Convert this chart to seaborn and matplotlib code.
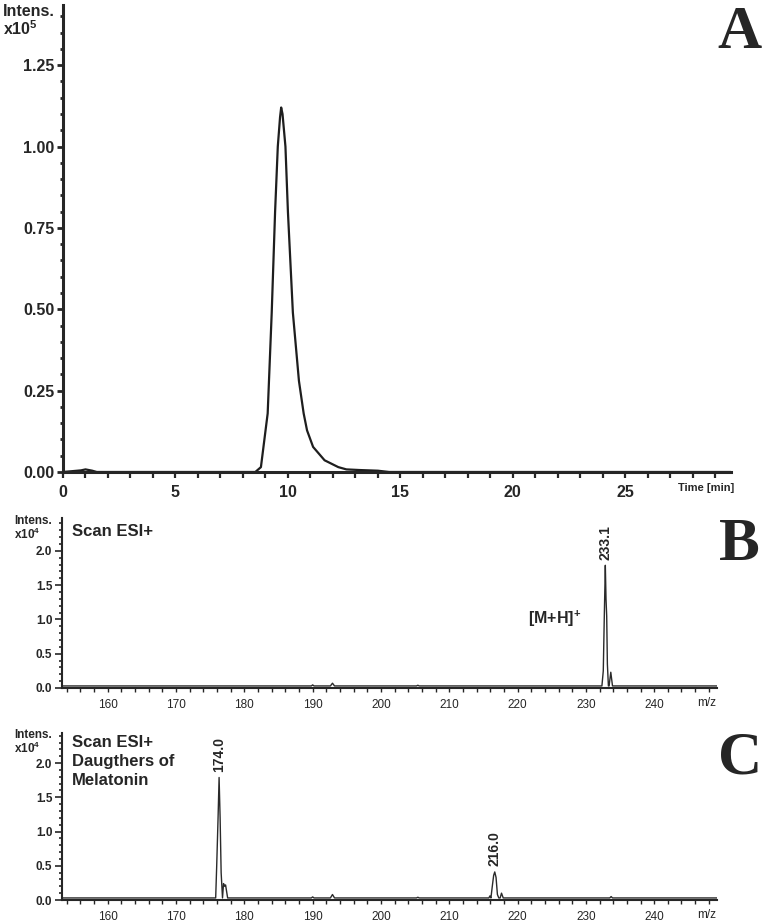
import matplotlib
matplotlib.use('Agg')
import matplotlib.pyplot as plt
import seaborn as sns
from matplotlib.ticker import MultipleLocator

# Chromatogram (panel A), intensity in x10^5
chrom_time = [0.0, 0.8, 1.0, 1.3, 1.5, 8.55, 8.8, 9.1, 9.28, 9.43, 9.55, 9.65, 9.70,
              9.76, 9.89, 10.0, 10.22, 10.49, 10.70, 10.85, 11.12, 11.63, 12.24,
              12.6, 13.2, 14.0, 14.5, 29.7]
chrom_int = [0.0, 0.005, 0.008, 0.004, 0.0, 0.0, 0.015, 0.18, 0.49, 0.80, 1.0, 1.09, 1.12,
             1.10, 1.0, 0.80, 0.49, 0.28, 0.18, 0.128, 0.077, 0.036, 0.015,
             0.008, 0.006, 0.004, 0.0, 0.0]

# Full scan spectrum (panel B), intensity in x10^4
mz_b = [153.3, 189.8, 190.0, 190.2, 192.6, 192.9, 193.2, 205.2, 205.4, 205.6,
        232.35, 232.55, 232.7, 232.85, 232.95, 233.05, 233.15, 233.3,
        233.4, 233.65, 233.9, 249.2]
int_b = [0.03, 0.03, 0.045, 0.03, 0.03, 0.07, 0.03, 0.03, 0.04, 0.03,
         0.03, 0.25, 1.05, 1.79, 1.3, 1.05, 0.35, 0.03,
         0.03, 0.23, 0.03, 0.03]

# Daughter ion spectrum (panel C), intensity in x10^4
mz_c = [153.3, 175.8, 175.95, 176.15, 176.3, 176.45, 176.6, 176.8, 176.95, 177.1,
        177.25, 177.55, 189.8, 190.0, 190.2, 192.6, 192.9, 193.2, 205.2, 205.4, 205.6,
        215.8, 215.95, 216.1, 216.3, 216.5, 216.66, 216.85, 217.05, 217.25, 217.45,
        217.65, 217.9, 233.5, 233.7, 233.9, 249.2]
int_c = [0.03, 0.03, 0.5, 1.2, 1.79, 1.2, 0.4, 0.03, 0.24, 0.2,
         0.22, 0.03, 0.03, 0.045, 0.03, 0.03, 0.08, 0.03, 0.03, 0.04, 0.03,
         0.03, 0.06, 0.03, 0.2, 0.36, 0.41, 0.33, 0.08, 0.03, 0.03,
         0.1, 0.03, 0.03, 0.05, 0.03, 0.03]

peak_b = [(232.85, 1.79, '233.1')]
peak_c = [(176.3, 1.79, '174.0'), (216.66, 0.41, '216.0')]

sns.set_style('ticks')
plt.rcParams['font.family'] = ['Liberation Sans', 'DejaVu Sans']
plt.rcParams['font.weight'] = 'bold'
plt.rcParams['mathtext.fontset'] = 'custom'
plt.rcParams['mathtext.rm'] = 'Liberation Sans:bold'
plt.rcParams['mathtext.bf'] = 'Liberation Sans:bold'

W, H = 764, 922
fig = plt.figure(figsize=(W / 100, H / 100), dpi=100)


def box(l, t, r, b):
    return [l / W, 1 - b / H, (r - l) / W, (b - t) / H]


def ftext(x, y, s, **kw):
    fig.text(x / W, 1 - y / H, s, **kw)


line_col = '#1e1e1e'

# ---- panel A
axA = fig.add_axes(box(63, 5, 731, 472))
sns.lineplot(x=chrom_time, y=chrom_int, ax=axA, sort=False, color=line_col, lw=1.6)
axA.set_xlim(0, 29.7)
axA.set_ylim(0, 1.435)
axA.xaxis.set_major_locator(MultipleLocator(5))
axA.xaxis.set_minor_locator(MultipleLocator(1))
axA.yaxis.set_major_locator(MultipleLocator(0.25))
axA.yaxis.set_minor_locator(MultipleLocator(0.05))
axA.yaxis.set_major_formatter(lambda v, p: f'{v:.2f}')
axA.tick_params(axis='y', which='major', length=4, width=2, labelsize=11.5, pad=2)
axA.tick_params(axis='y', which='minor', length=2, width=2)
axA.tick_params(axis='x', which='both', length=4, width=1.6, labelsize=11.5, pad=5)
for s in ['top', 'right']:
    axA.spines[s].set_visible(False)
for s in ['left', 'bottom']:
    axA.spines[s].set_linewidth(2.2)
axA.set_xlabel('')
axA.set_ylabel('')
ftext(3, 11, 'Intens.', fontsize=11.5, va='center', ha='left')
ftext(3, 29, r'x10$^{5}$', fontsize=11.5, va='center', ha='left')
ftext(734, 488, 'Time [min]', fontsize=8, va='center', ha='right')
ftext(739, 48, 'A', family='Liberation Serif', fontweight='bold', fontsize=44,
      ha='center', va='baseline')


def spectrum(ax, mz, inten, top, peaks):
    sns.lineplot(x=mz, y=inten, ax=ax, sort=False, color='#2a2a2a', lw=1.0)
    ax.set_xlim(153.3, 249.2)
    ax.set_ylim(0, top)
    ax.xaxis.set_major_locator(MultipleLocator(10))
    ax.xaxis.set_minor_locator(MultipleLocator(2))
    ax.yaxis.set_major_locator(MultipleLocator(0.5))
    ax.yaxis.set_minor_locator(MultipleLocator(0.1))
    ax.yaxis.set_major_formatter(lambda v, p: f'{v:.1f}')
    ax.tick_params(axis='y', which='major', length=5, width=1.2, labelsize=8.5, pad=2)
    ax.tick_params(axis='y', which='minor', length=2.5, width=1.2)
    ax.tick_params(axis='x', which='both', length=3, width=1.0, labelsize=8.5, pad=5)
    for s in ['top', 'right']:
        ax.spines[s].set_visible(False)
    for s in ['left', 'bottom']:
        ax.spines[s].set_linewidth(1.5)
    plt.setp(ax.get_xticklabels(), fontweight='normal')
    ax.set_xlabel('')
    ax.set_ylabel('')
    for x, y, lab in peaks:
        ax.text(x, y + 0.08, lab, rotation=90, ha='center', va='bottom',
                fontsize=10)


# ---- panel B
axB = fig.add_axes(box(62, 518, 717, 688))
spectrum(axB, mz_b, int_b, 2.48, peak_b)
ftext(14, 521, 'Intens.', fontsize=8.5, va='center', ha='left')
ftext(14, 534, r'x10$^{4}$', fontsize=8.5, va='center', ha='left')
ftext(72, 531, 'Scan ESI+', fontsize=12, va='center', ha='left')
ftext(528, 619, r'[M+H]$^{+}$', fontsize=11.5, va='center', ha='left')
ftext(716, 703, 'm/z', fontsize=8.5, fontweight='normal', va='center', ha='right')
ftext(739, 560, 'B', family='Liberation Serif', fontweight='bold', fontsize=44,
      ha='center', va='baseline')

# ---- panel C
axC = fig.add_axes(box(62, 733, 717, 900))
spectrum(axC, mz_c, int_c, 2.44, peak_c)
ftext(14, 735, 'Intens.', fontsize=8.5, va='center', ha='left')
ftext(14, 748, r'x10$^{4}$', fontsize=8.5, va='center', ha='left')
ftext(72, 735, 'Scan ESI+\nDaugthers of\nMelatonin', fontsize=12, va='top', ha='left',
      linespacing=1.35)
ftext(716, 915, 'm/z', fontsize=8.5, fontweight='normal', va='center', ha='right')
ftext(740, 773, 'C', family='Liberation Serif', fontweight='bold', fontsize=44,
      ha='center', va='baseline')

fig.savefig('out.png', dpi=100)
